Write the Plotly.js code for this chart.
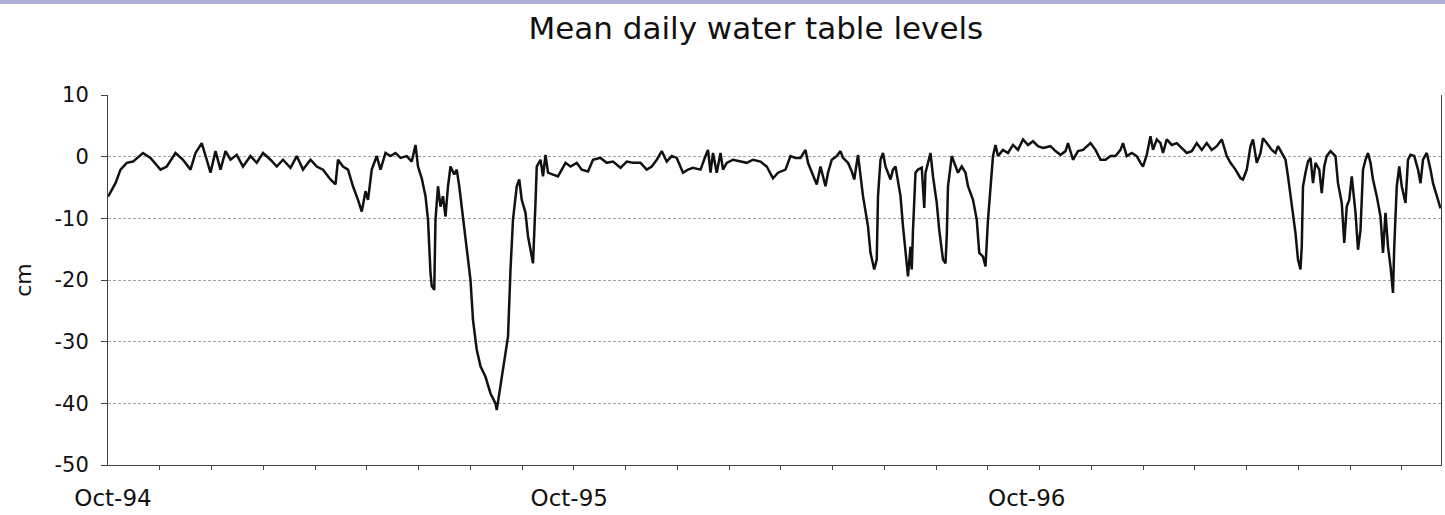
<!DOCTYPE html>
<html>
<head>
<meta charset="utf-8">
<script src="https://cdn.plot.ly/plotly-3.0.1.min.js"></script>
<style>
  html, body { margin: 0; padding: 0; background: #fff; }
  #topbar { position: absolute; left: 0; top: 0; width: 1445px; height: 4px; background: #aeb0d8; z-index: 5; }
  #chart { width: 1445px; height: 515px; }
</style>
</head>
<body>
<div id="topbar"></div>
<div id="chart"></div>
<script>
// Day offsets from 1 Oct 1994 and mean daily water table level (cm)
const startDate = '1994-10-01';
const dayOffset = [
  0,2,6,10,15,20,28,34,42,47,54,60,66,70,75,79,82,86,90,94,98,103,108,114,119,124,130,135,140,146,
  151,156,162,167,172,178,182,184,188,192,196,200,203,206,208,211,215,218,222,226,230,234,239,243,246,248,251,254,256,258,
  259,261,262,264,266,268,270,272,274,277,279,281,284,287,290,292,295,298,302,306,310,311,314,318,320,322,324,327,329,331,
  334,336,339,340,342,343,346,348,350,352,356,360,366,370,375,379,384,388,394,399,404,410,415,420,426,431,435,439,443,447,
  451,455,460,464,468,474,478,480,482,484,487,490,492,495,500,506,511,516,522,527,532,536,542,546,550,554,558,560,564,567,
  570,574,576,579,583,586,588,592,595,597,600,602,604,608,610,613,615,616,618,620,622,626,628,630,634,636,638,640,642,643,
  644,646,648,651,653,654,658,660,663,665,668,670,671,672,675,678,680,683,686,688,692,695,697,700,702,704,706,708,710,712,
  716,720,724,728,732,736,740,744,748,754,758,762,766,768,772,776,780,786,790,794,798,802,806,810,812,815,819,823,826,828,
  831,834,836,839,842,844,847,851,855,859,863,867,871,875,879,883,887,891,895,898,902,906,908,911,914,916,919,922,924,927,
  931,934,936,939,942,944,947,950,952,954,955,956,958,960,962,964,966,969,971,973,975,978,982,984,987,989,991,993,995,998,
  1000,1002,1004,1006,1008,1010,1012,1015,1018,1020,1022,1024,1026,1028,1029,1031,1033,1035,1038,1040,1042,1045,1048,1050,1052,1055,1058,1060,1064,1066
];
const levelCm = [
  -6.5,-5.8,-4.3,-2.1,-1.0,-0.8,0.6,-0.2,-2.1,-1.6,0.6,-0.5,-2.1,0.6,2.2,-0.5,-2.6,0.9,-2.1,0.9,-0.5,0.3,-1.6,0.1,-1.0,0.6,-0.5,-1.6,-0.5,-1.8,
  0.1,-2.1,-0.5,-1.6,-2.1,-3.7,-4.5,-0.5,-1.6,-2.1,-4.8,-7.0,-8.9,-5.6,-7.0,-2.1,0.1,-2.1,0.6,0.1,0.6,-0.2,0.1,-0.8,1.9,-1.6,-3.5,-6.4,-10.2,-18.9,
  -21.0,-21.6,-10.2,-4.8,-8.1,-6.4,-9.7,-4.8,-1.6,-2.9,-2.1,-4.8,-10.2,-14.6,-20.0,-26.5,-31.3,-34.0,-35.7,-38.4,-40.0,-41.1,-37.3,-31.9,-29.2,-18.3,-10.2,-4.8,-3.7,-7.0,
  -9.1,-12.9,-16.7,-17.3,-7.5,-1.6,-0.5,-3.2,0.3,-2.6,-2.9,-3.2,-1.0,-1.6,-1.0,-2.1,-2.4,-0.5,-0.2,-1.0,-0.8,-1.8,-0.8,-1.0,-1.0,-2.1,-1.6,-0.5,0.9,-0.8,
  0.1,-0.2,-2.6,-2.1,-1.8,-2.1,0.1,1.1,-2.6,0.6,-2.6,0.6,-2.1,-1.0,-0.5,-0.8,-1.0,-0.5,-0.8,-1.6,-3.5,-2.6,-2.1,0.1,-0.2,-0.2,1.1,-1.0,-3.2,-4.5,
  -1.6,-4.8,-2.6,-0.5,0.1,0.9,-0.2,-1.0,-2.4,-3.7,0.3,-3.2,-6.4,-11.3,-15.6,-18.3,-16.7,-6.4,-0.5,0.6,-1.6,-3.7,-2.1,-1.6,-6.4,-11.3,-15.6,-19.4,-14.6,-18.3,
  -11.9,-2.6,-2.1,-1.8,-8.3,-2.6,0.6,-3.2,-7.5,-11.9,-16.7,-17.3,-12.9,-4.8,0.1,-1.6,-2.6,-1.6,-2.6,-4.8,-7.0,-10.2,-15.6,-16.2,-17.8,-10.2,-4.3,0.1,1.9,0.1,
  1.1,0.6,1.9,1.1,2.8,1.9,2.5,1.7,1.4,1.7,0.9,0.3,0.9,2.2,-0.5,0.9,1.1,2.2,1.1,-0.5,-0.5,0.1,0.1,1.1,2.2,0.1,0.6,0.1,-1.0,-1.6,
  0.3,3.3,1.1,2.8,2.2,0.6,2.8,1.9,2.2,1.4,0.6,0.9,2.2,1.1,2.2,1.1,1.7,2.8,0.1,-1.0,-2.1,-3.5,-3.7,-2.1,1.7,2.8,-1.0,0.6,3.0,2.2,
  1.1,0.6,1.7,0.6,-0.5,-3.2,-7.5,-12.4,-16.7,-18.3,-14.6,-4.8,-2.6,-0.8,-0.2,-4.3,-1.0,-2.1,-5.9,-1.6,0.1,0.9,0.1,-4.3,-7.5,-14.0,-8.1,-7.0,-3.2,-9.1,
  -15.1,-11.9,-2.1,-0.5,0.6,-1.0,-3.7,-6.4,-9.7,-15.6,-9.1,-14.6,-17.8,-22.1,-14.6,-4.8,-1.6,-4.8,-7.5,-0.5,0.3,0.1,-2.1,-4.3,-0.5,0.6,-2.1,-4.3,-7.0,-8.4
];
const yTickValues = [10, 0, -10, -20, -30, -40, -50];
const yTickLabels = ['10', '0', '-10', '-20', '-30', '-40', '-50'];
const chartTitle = 'Mean daily water table levels';
const yTitle = 'cm';
const lastDay = 1066.4;

const DAY = 86400000;
const t0 = Date.parse(startDate + 'T00:00:00Z');
function iso(ms) { return new Date(ms).toISOString().slice(0, 19).replace('T', ' '); }
const xDates = dayOffset.map(d => iso(t0 + d * DAY));

const font = 'DejaVu Sans, Arial, sans-serif';

const trace = {
  type: 'scatter',
  mode: 'lines',
  x: xDates,
  y: levelCm,
  line: { color: '#111', width: 2.5 },
  hoverinfo: 'skip'
};

const layout = {
  width: 1445,
  height: 515,
  margin: { l: 108, r: 4, t: 95, b: 50 },
  paper_bgcolor: '#fff',
  plot_bgcolor: '#fff',
  showlegend: false,
  font: { family: font, color: '#111' },
  title: {
    text: chartTitle,
    font: { family: font, size: 31, color: '#111' },
    xref: 'paper', x: 0.486, xanchor: 'center',
    yref: 'container', y: 0.945, yanchor: 'middle'
  },
  xaxis: {
    type: 'date',
    range: [iso(t0), iso(t0 + lastDay * DAY)],
    tick0: iso(t0),
    dtick: 'M12',
    tickformat: '%b-%y',
    ticks: '',
    ticklabelshift: 5,
    ticklabelstandoff: 12,
    tickfont: { family: font, size: 23, color: '#111' },
    showline: true, linecolor: '#444', linewidth: 1,
    showgrid: false, zeroline: false,
    minor: { ticks: 'outside', ticklen: 4, tickcolor: '#444', tickwidth: 1, dtick: 41.4 * DAY, tick0: iso(t0), showgrid: false }
  },
  yaxis: {
    range: [-50, 10],
    tickmode: 'array',
    tickvals: yTickValues,
    ticktext: yTickLabels,
    ticks: 'outside', ticklen: 6, tickcolor: '#444', tickwidth: 1,
    ticklabelstandoff: 8,
    tickfont: { family: font, size: 21, color: '#111' },
    showline: true, linecolor: '#444', linewidth: 1, mirror: true,
    showgrid: true, gridcolor: '#a0a0a0', gridwidth: 1, griddash: '3px,2px',
    zeroline: false,
    title: { text: yTitle, font: { family: font, size: 22, color: '#111' }, standoff: 16 }
  }
};

Plotly.newPlot('chart', [trace], layout, { staticPlot: true, displayModeBar: false });
</script>
</body>
</html>
